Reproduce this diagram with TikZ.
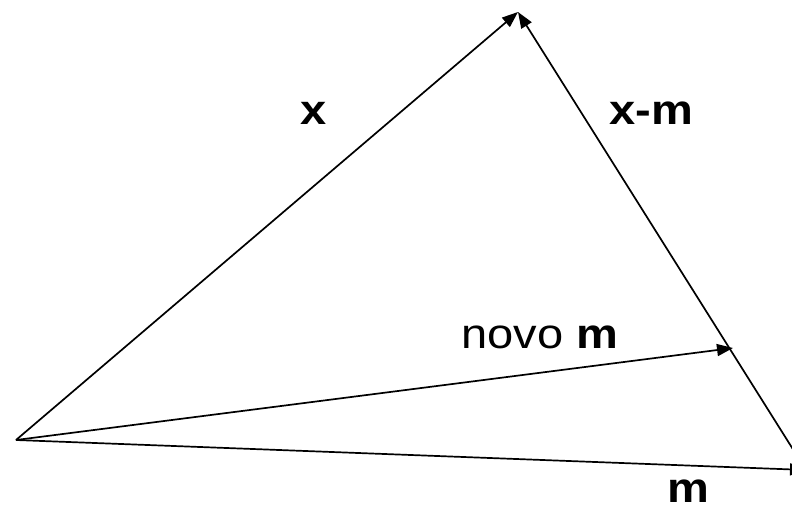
\documentclass[tikz,border=0pt]{standalone}
\usepackage{fontspec}
\newfontfamily\lblfont[FakeStretch=1.12]{Liberation Sans}
\usetikzlibrary{arrows.meta}

\begin{document}
\begin{tikzpicture}[x=1pt, y=-1pt, line width=1.7pt,
  vec/.style={-{Triangle[length=16pt,width=12pt]}},
  lbl/.style={inner sep=0pt, font=\lblfont\fontsize{42}{42}\selectfont}]
  \useasboundingbox (0,0) rectangle (792,509);
  % vertices, picture in pixels (y downwards)
  \coordinate (O) at (16,440);
  \coordinate (X) at (518,12);
  \coordinate (N) at (733,348);
  \coordinate (M) at (806,470);
  % vectors
  \draw[vec] (O) -- (X);
  \draw[vec] (M) -- (X);
  \draw[vec] (O) -- (N);
  \draw[vec] (O) -- (M);
  % labels
  \node[lbl] (lx) at (314,113) {\textbf{x}};
  \node[lbl] (lxm) at (651,113) {\textbf{x-m}};
  \node[lbl] (lnm) at (540,337) {novo \textbf{m}};
  \node[lbl] (lm) at (688,491) {\textbf{m}};
\end{tikzpicture}
\end{document}
